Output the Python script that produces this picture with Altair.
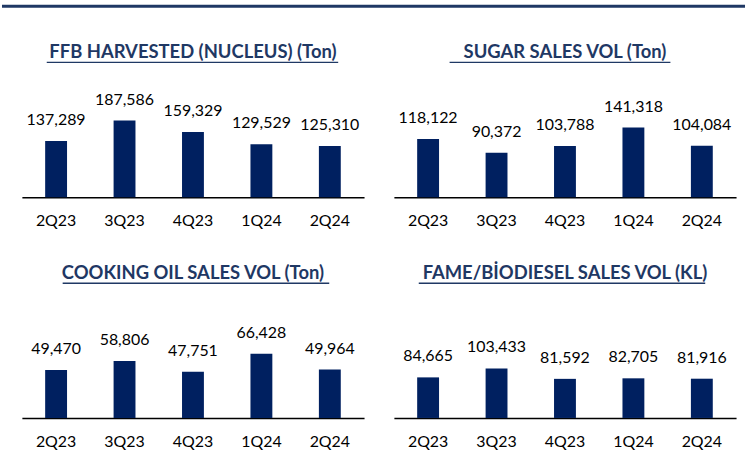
import altair as alt
import pandas as pd

quarters = ["2Q23", "3Q23", "4Q23", "1Q24", "2Q24"]
ffb_harvested = [137289, 187586, 159329, 129529, 125310]
sugar_sales = [118122, 90372, 103788, 141318, 104084]
cooking_oil_sales = [49470, 58806, 47751, 66428, 49964]
fame_sales = [84665, 103433, 81592, 82705, 81916]
titles = [
    "FFB HARVESTED (NUCLEUS) (Ton)",
    "SUGAR SALES VOL (Ton)",
    "COOKING OIL SALES VOL (Ton)",
    "FAME/BİODIESEL SALES VOL (KL)",
]

NAVY = "#002060"
TITLE_COLOR = "#1F3864"
FONT = "Lato"
W = 344
H = 100


def panel(values, title, ymax, ul):
    df = pd.DataFrame({"q": quarters, "v": values})
    base = alt.Chart(df).encode(
        x=alt.X(
            "q:N",
            sort=quarters,
            title=None,
            scale=alt.Scale(paddingInner=0, paddingOuter=0),
            axis=alt.Axis(
                labelAngle=0,
                ticks=False,
                tickSize=0,
                labelPadding=16,
                domainColor="#000000",
                domainWidth=1.5,
                labelFont=FONT,
                labelFontSize=16,
                labelColor="#000000",
                grid=False,
            ),
        ),
        y=alt.Y("v:Q", scale=alt.Scale(domain=[0, ymax], nice=False), axis=None),
    )
    bars = base.mark_bar(color=NAVY, size=22)
    labels = base.mark_text(
        baseline="alphabetic", dy=-16, font=FONT, fontSize=16, color="#000000"
    ).encode(text=alt.Text("v:Q", format=","))
    tdf = pd.DataFrame({"t": [title]})
    ttl = alt.Chart(tdf).mark_text(
        font=FONT, fontSize=18.5, fontWeight="bold", color=TITLE_COLOR,
        baseline="alphabetic", align="center",
    ).encode(text="t:N", x=alt.value(W / 2), y=alt.value(-39.5))
    underline = alt.Chart(tdf).mark_rule(color=TITLE_COLOR, strokeWidth=1.5).encode(
        x=alt.value(ul[0]), x2=alt.value(ul[1]), y=alt.value(-35.5)
    )
    return alt.layer(bars, labels, ttl, underline).properties(width=W, height=H)


p1 = panel(ffb_harvested, titles[0], 243600, (25, 318))
p2 = panel(sugar_sales, titles[1], 201900, (56, 278))
p3 = panel(cooking_oil_sales, titles[2], 102700, (41, 309))
p4 = panel(fame_sales, titles[3], 207500, (25, 313))

line = alt.Chart(pd.DataFrame({"a": [0]})).mark_rule(color=TITLE_COLOR, strokeWidth=3).encode(
    x=alt.value(-20), x2=alt.value(727), y=alt.value(0)
).properties(width=1, height=1)

row1 = alt.hconcat(p1, p2, spacing=30)
row2 = alt.hconcat(p3, p4, spacing=30)
body = alt.vconcat(row1, row2, spacing=35)
chart = alt.vconcat(line, body, spacing=35).properties(
    padding={"left": 0, "top": 3, "right": 0, "bottom": 0},
    background="white",
).configure_view(stroke=None)

chart.save("out.html", embed_options={"renderer": "svg", "actions": False})
